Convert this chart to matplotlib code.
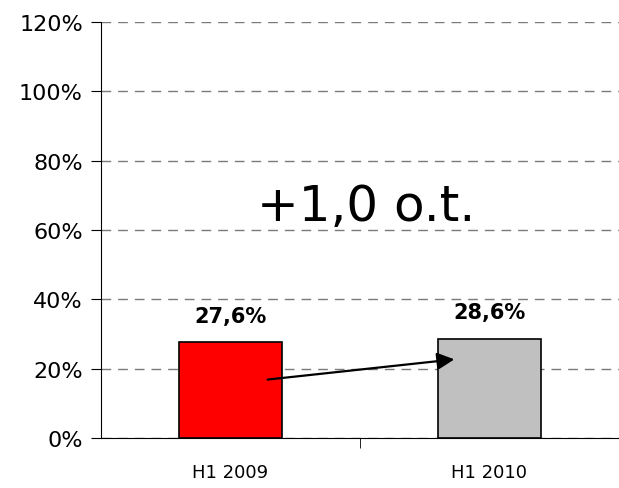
import matplotlib.pyplot as plt
import numpy as np

# donnees
categories = ['H1 2009', 'H1 2010']
valeurs = [27.6, 28.6]
etiquettes = ['27,6%', '28,6%']
couleurs = ['#ff0000', '#c0c0c0']
yticks = [0, 20, 40, 60, 80, 100, 120]
ytick_labels = ['0%', '20%', '40%', '60%', '80%', '100%', '120%']
texte_delta = '+1,0 o.t.'

fig = plt.figure(figsize=(6.19, 4.89), dpi=100)
ax = fig.add_axes([0.163, 0.102, 0.837, 0.851])

x = np.arange(len(categories))
ax.bar(x, valeurs, width=0.40, color=couleurs, edgecolor='black', linewidth=1.2, zorder=3)

for i in range(len(x)):
    ax.annotate(etiquettes[i], (x[i], valeurs[i]), xytext=(0, 12), textcoords='offset points',
                ha='center', va='bottom', fontsize=15, fontweight='bold')

# fleche entre les barres
ax.annotate('', xy=(0.875, 22.8), xytext=(0.133, 16.8),
            arrowprops=dict(arrowstyle='-|>', color='black', lw=1.6, mutation_scale=26), zorder=4)

ax.text(0.523, 67, texte_delta, ha='center', va='center', fontsize=36)

ax.set_xlim(-0.5, 1.5)
ax.set_ylim(0, 120)
ax.set_yticks(yticks)
ax.set_yticklabels(ytick_labels, fontsize=16)
ax.set_xticks(x)
ax.set_xticklabels(categories, fontsize=13)
ax.tick_params(axis='x', length=0, pad=18)
ax.set_xticks([0.5], minor=True)
ax.tick_params(axis='x', which='minor', length=7, direction='out')
ax.tick_params(axis='y', length=7, direction='out', pad=6)

ax.grid(axis='y', color='#7a7a7a', linestyle=(0, (7, 5)), linewidth=1, zorder=0)
ax.spines['top'].set_visible(False)
ax.spines['right'].set_visible(False)

plt.savefig('out.png', dpi=100)
